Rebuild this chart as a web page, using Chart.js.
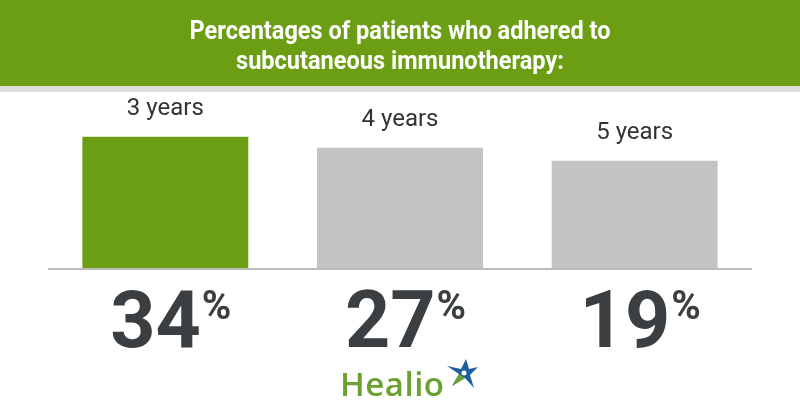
<!DOCTYPE html>
<html>
<head>
<meta charset="utf-8">
<script src="https://cdn.jsdelivr.net/npm/chart.js@4/dist/chart.umd.min.js"></script>
<style>
  body { margin: 0; background: #fff; }
  #wrap { width: 800px; height: 420px; }
</style>
</head>
<body>
<div id="wrap"><canvas id="myChart" width="800" height="420"></canvas></div>
<script>
    const titleLines = ['Percentages of patients who adhered to', 'subcutaneous immunotherapy:'];
    const categories = ['3 years', '4 years', '5 years'];
    const adherence = [34, 27, 19];
    const barColors = ['#6b9e12', '#c3c3c3', '#c3c3c3'];

    // bars in the picture do not start from zero, so the value axis is cut below it
    const axisMin = -48.7;
    const axisMax = 56.9;

    const green = '#6b9e12';
    const dark = '#3b3f42';

    const decorPlugin = {
        id: 'decor',
        beforeDraw(chart) {
            const c = chart.ctx;
            c.save();
            c.fillStyle = green;
            c.fillRect(0, 0, chart.width, 86);
            c.fillStyle = '#dedede';
            c.fillRect(0, 86, chart.width, 6);

            // title, squeezed to look like the condensed face of the original
            c.fillStyle = '#ffffff';
            c.font = 'bold 25px Roboto';
            c.textAlign = 'center';
            c.textBaseline = 'middle';
            const squeeze = 421 / c.measureText(titleLines[0]).width;
            c.translate(chart.width / 2, 0);
            c.scale(squeeze, 1);
            c.fillText(titleLines[0], 0, 33);
            c.fillText(titleLines[1], 0, 63);
            c.restore();
        },
        afterDatasetsDraw(chart) {
            const c = chart.ctx;
            const area = chart.chartArea;
            const bars = chart.getDatasetMeta(0).data;
            c.save();

            // baseline
            c.strokeStyle = '#bcbcbc';
            c.lineWidth = 2;
            c.beginPath();
            c.moveTo(area.left, area.bottom);
            c.lineTo(area.right, area.bottom);
            c.stroke();

            bars.forEach((bar, i) => {
                // category above the bar
                c.fillStyle = '#333';
                c.font = '24px Roboto';
                c.textAlign = 'center';
                c.textBaseline = 'middle';
                c.fillText(categories[i], bar.x, bar.y - 28);

                // big value with a raised percent sign
                const num = String(adherence[i]);
                c.textAlign = 'left';
                c.textBaseline = 'alphabetic';
                c.font = 'bold 79px Roboto';
                const wNum = c.measureText(num).width;
                c.font = 'bold 40px Roboto';
                const wPct = c.measureText('%').width;
                const x0 = bar.x + 5 - (wNum + wPct) / 2;
                c.fillStyle = dark;
                c.font = 'bold 79px Roboto';
                c.fillText(num, x0, 347);
                c.font = 'bold 40px Roboto';
                c.fillText('%', x0 + wNum + 1, 319);
            });

            // Healio logo
            c.fillStyle = '#6aa130';
            c.font = '600 33px "Open Sans"';
            c.letterSpacing = '0.5px';
            c.textAlign = 'left';
            c.fillText('Healio', 340, 396);
            c.letterSpacing = '0px';

            // star mark
            const pts = [[447, 366], [461, 369], [466, 359], [469, 369], [478, 367], [470, 375], [474, 388], [465, 378], [452, 386], [459, 374]];
            c.fillStyle = '#1f5f9e';
            c.beginPath();
            pts.forEach((p, k) => k ? c.lineTo(p[0], p[1]) : c.moveTo(p[0], p[1]));
            c.closePath();
            c.fill();
            c.fillStyle = '#6aa130';
            c.beginPath();
            c.moveTo(465, 378);
            c.lineTo(452, 386);
            c.lineTo(459, 374);
            c.closePath();
            c.fill();
            c.fillStyle = '#ffffff';
            c.beginPath();
            c.arc(464, 373, 2.5, 0, Math.PI * 2);
            c.fill();

            c.restore();
        }
    };

    const ctx = document.getElementById('myChart').getContext('2d');
    const myChart = new Chart(ctx, {
        type: 'bar',
        data: {
            labels: categories,
            datasets: [{
                label: '% adhered',
                data: adherence,
                base: axisMin,
                backgroundColor: barColors,
                borderWidth: 0,
                categoryPercentage: 1,
                barPercentage: 0.707
            }]
        },
        options: {
            responsive: false,
            animation: false,
            layout: {
                padding: { left: 48, right: 48, top: 100, bottom: 151 }
            },
            scales: {
                x: { display: false },
                y: { display: false, min: axisMin, max: axisMax }
            },
            plugins: {
                legend: { display: false },
                tooltip: { enabled: false },
                title: { display: false }
            }
        },
        plugins: [decorPlugin]
    });
</script>
</body>
</html>
